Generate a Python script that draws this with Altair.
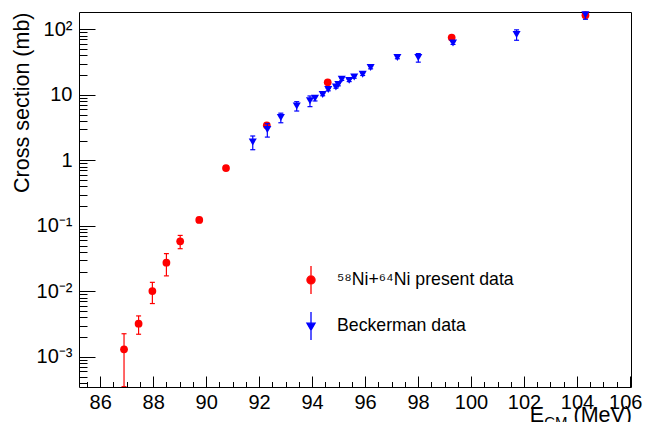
import math
import altair as alt
import pandas as pd

# ---------------- data ----------------
red_label = "⁵⁸Ni+⁶⁴Ni present data"
blue_label = "Beckerman data"

red_E = [86.90, 87.45, 87.97, 88.50, 89.02, 89.74, 90.75, 92.29, 94.59, 99.27, 104.32]
red_sigma = [1.30e-3, 3.21e-3, 1.01e-2, 0.0274, 0.058, 0.123, 0.76, 3.42, 15.5, 74.6, 164.0]
red_err = [0.95e-3, 1.0e-3, 3.6e-3, 0.0102, 0.0133, 0.011, 0.05, 0.25, 1.0, 4.0, 10.0]

blue_E = [91.76, 92.31, 92.82, 93.42, 93.92, 94.11, 94.40, 94.61, 94.90, 94.99,
          95.12, 95.40, 95.59, 95.91, 96.21, 97.22, 98.01, 99.32, 101.72, 104.32]
blue_sigma = [1.90, 2.94, 4.49, 6.75, 8.09, 8.85, 10.07, 12.0, 13.1, 14.3,
              17.3, 16.6, 18.7, 20.6, 26.0, 37.0, 37.0, 61.7, 83.0, 167.0]
blue_err = [0.45, 0.68, 0.75, 1.1, 1.5, 0.8, 0.4, 0.5, 0.5, 0.6,
            0.7, 0.7, 0.8, 0.9, 1.1, 1.5, 5.5, 3.0, 15.0, 25.0]

x_major = [86, 88, 90, 92, 94, 96, 98, 100, 102, 104, 106]
x_minor = [85.5 + 0.5 * i for i in range(42)]
y_major = [1e-3, 1e-2, 1e-1, 1, 10, 100]
y_major_labels = ["10⁻³", "10⁻²", "10⁻¹", "1", "10", "10²"]
y_minor = [m * 10.0 ** k for k in range(-4, 3) for m in range(2, 10)
           if 3.46e-4 <= m * 10.0 ** k <= 183]

red = pd.DataFrame({"E": red_E, "sigma": red_sigma, "err": red_err})
red["series"] = red_label
blue = pd.DataFrame({"E": blue_E, "sigma": blue_sigma, "err": blue_err})
blue["series"] = blue_label
for d in (red, blue):
    d["lo"] = d["sigma"] - d["err"]
    d["hi"] = d["sigma"] + d["err"]

# ---------------- layout ----------------
W, H = 552, 375
FONT = "Liberation Sans"
RED, BLUE = "#ff0000", "#0000ff"

xs = alt.Scale(domain=[85.2, 106.04], nice=False, zero=False)
ys = alt.Scale(type="log", domain=[3.46e-4, 183.6], nice=False, clamp=True)

label_expr = ""
for v, l in zip(y_major, y_major_labels):
    label_expr += f"abs(log(datum.value)/log(10) - ({math.log10(v)})) < 0.01 ? '{l}' : "
label_expr += "''"

ax_x_labels = alt.Axis(values=x_major, format="d", ticks=False, tickSize=0, domain=False,
                       grid=False, labelPadding=5.5, labelFlush=5, labelFlushOffset=12,
                       labelOverlap=False, labelFontSize=20, labelFont=FONT,
                       labelColor="black", title=None)
ax_y_labels = alt.Axis(values=y_major, labelExpr=label_expr, ticks=False, tickSize=0,
                       domain=False, grid=False, labelPadding=7, labelOverlap=False,
                       labelFlush=False, labelFontSize=20, labelFont=FONT, labelColor="black",
                       title="Cross section (mb)", titleFont=FONT, titleFontSize=21.5,
                       titleFontWeight="normal", titleColor="black", titleX=-45.5, titleY=0,
                       titleAngle=270, titleAlign="right", titleBaseline="bottom")
ax_x_major = alt.Axis(orient="top", offset=-H, values=x_major, tickSize=11, tickWidth=1,
                      tickColor="black", labels=False, domain=False, grid=False, title=None)
ax_x_minor = alt.Axis(orient="top", offset=-H, values=x_minor, tickSize=5.5, tickWidth=1,
                      tickColor="black", labels=False, domain=False, grid=False, title=None)
ax_y_major = alt.Axis(orient="right", offset=-W, values=y_major, tickSize=16, tickWidth=1,
                      tickColor="black", labels=False, domain=False, grid=False, title=None)
ax_y_minor = alt.Axis(orient="right", offset=-W, values=y_minor, tickSize=8, tickWidth=1,
                      tickColor="black", labels=False, domain=False, grid=False, title=None)


def bars(df, color, xa, ya):
    return alt.Chart(df).mark_rule(color=color, strokeWidth=1.2, clip=True).encode(
        x=alt.X("E:Q", scale=xs, axis=xa),
        y=alt.Y("lo:Q", scale=ys, axis=ya),
        y2="hi:Q",
    )


def caps(df, color, field, xa, ya):
    return alt.Chart(df).mark_tick(color=color, orient="horizontal", size=5, thickness=1.2,
                                   opacity=1, clip=True).encode(
        x=alt.X("E:Q", scale=xs, axis=xa),
        y=alt.Y(f"{field}:Q", scale=ys, axis=ya),
    )


P1 = "M0,-1L0,1M-0.29,0A0.29,0.29,0,1,0,0.29,0A0.29,0.29,0,1,0,-0.29,0Z"
P2 = "M0,-1L0,1M-0.29,-0.2L0.29,-0.2L0,0.3Z"


def leg(symbol, color, ly):
    return alt.Legend(
        title=None, orient="none", legendX=217, legendY=ly, direction="vertical",
        symbolType=symbol, symbolSize=784, symbolStrokeWidth=1.3, symbolStrokeColor=color,
        symbolFillColor=color, symbolOpacity=1, labelFontSize=17.7, labelFont=FONT,
        labelColor="black", labelOffset=11, padding=0, labelLimit=400,
    )


def points(df, label, color, shape, symbol, ly, size):
    return alt.Chart(df).mark_point(filled=True, opacity=1, size=size, shape=shape).encode(
        x=alt.X("E:Q", scale=xs, axis=None),
        y=alt.Y("sigma:Q", scale=ys, axis=None),
        color=alt.Color("series:N", scale=alt.Scale(domain=[label], range=[color]),
                        legend=leg(symbol, color, ly)),
    )


one = pd.DataFrame({"a": [0]})


def txt(s, size, align, x, y):
    return alt.Chart(one).mark_text(text=s, font=FONT, fontSize=size, align=align,
                                    baseline="alphabetic", color="black").encode(
        x=alt.value(x), y=alt.value(y))


# x-axis title E_CM (MeV), right-aligned to the frame
t_mev = txt(" (MeV)", 21.5, "right", W + 1, H + 35)
t_cm = txt("CM", 15, "right", W + 1 - 64.5, H + 39.5)
t_e = txt("E", 21.5, "right", W + 1 - 64.5 - 23.3, H + 35)

chart = alt.layer(
    bars(red, RED, ax_x_labels, ax_y_labels),
    caps(red, RED, "lo", ax_x_major, ax_y_major),
    caps(red, RED, "hi", ax_x_minor, ax_y_minor),
    points(red, red_label, RED, "circle", P1, 253, 60),
    bars(blue, BLUE, None, None),
    caps(blue, BLUE, "lo", None, None),
    caps(blue, BLUE, "hi", None, None),
    points(blue, blue_label, BLUE, "triangle-down", P2, 299, 65),
    t_mev, t_cm, t_e,
).resolve_axis(x="independent", y="independent").resolve_scale(
    color="independent").resolve_legend(color="independent").properties(
    width=W, height=H,
    autosize=alt.AutoSizeParams(type="none"),
    padding={"left": 71, "top": 4, "right": 12, "bottom": 35},
    background="white",
).configure_view(stroke="black", strokeWidth=1)

chart.save("out.html", embed_options={"renderer": "svg", "actions": False})
